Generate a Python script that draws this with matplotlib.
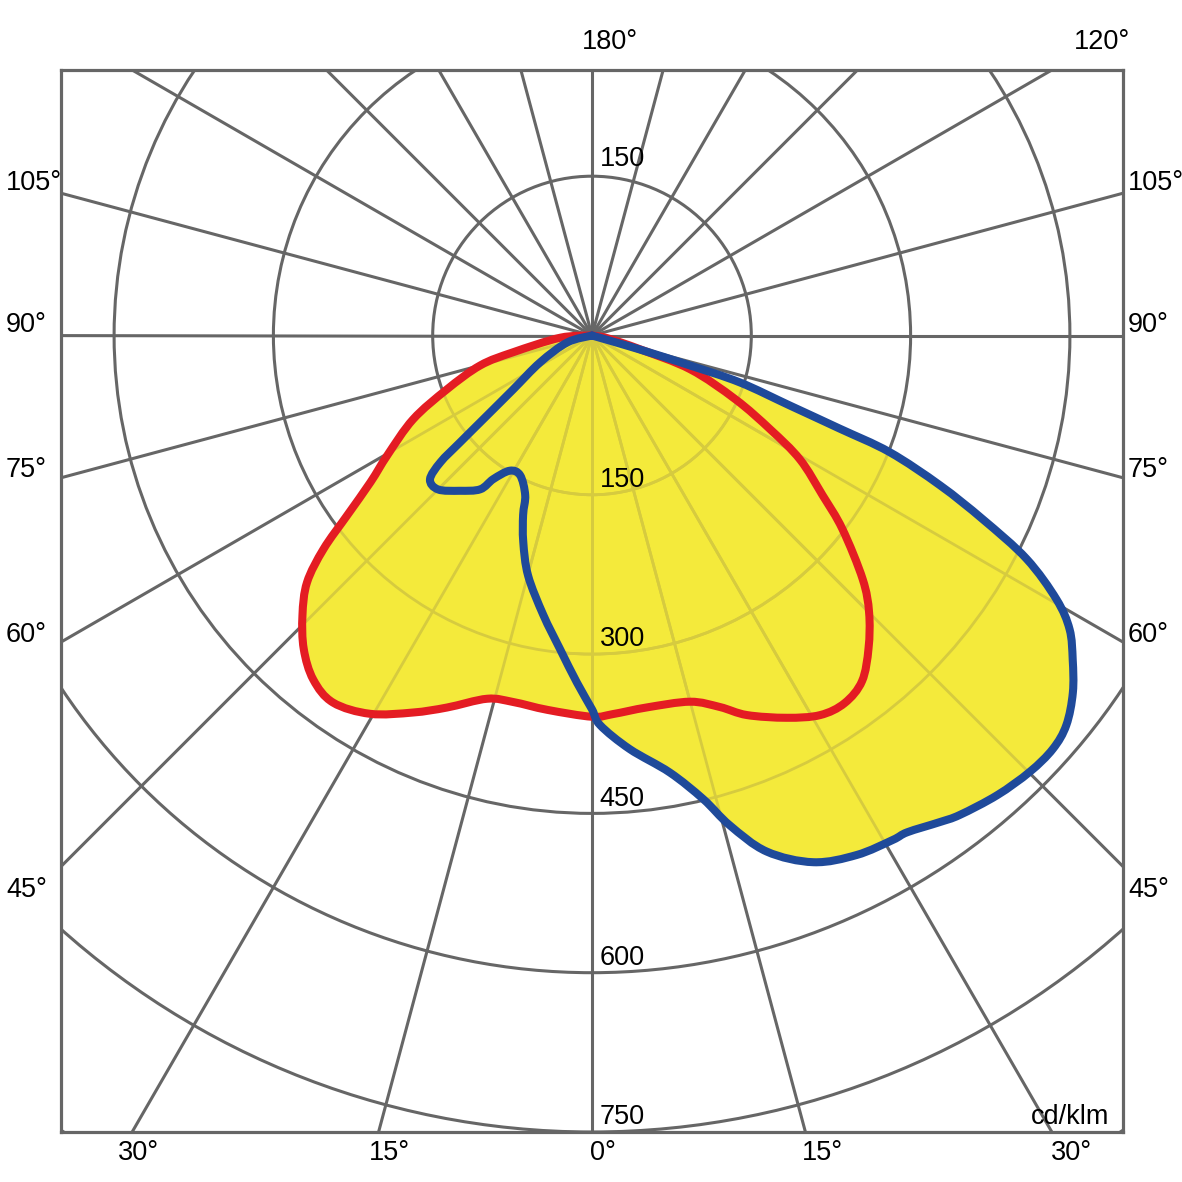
import numpy as np
import matplotlib
matplotlib.use('Agg')
import matplotlib.pyplot as plt
from matplotlib.patches import Circle, PathPatch
from matplotlib.path import Path

# luminous intensity, cd/klm, angle from nadir (negative = left half)
red_angles = [-90, -86, -78, -75, -69.6, -64.9, -59.7, -56.5, -53.7, -51.5, -49.1, -46.0,
              -42.6, -39.0, -35.2, -30.4, -25.4, -21.3, -16.1, -12.1, -6.8, 0, 3.2, 8.4,
              15, 19, 22.2, 27, 31, 34.5, 38, 41.5, 45, 48, 52.3, 55.3, 59.2, 62.2, 66,
              71, 74, 80, 90]
red_cd = [0, 30, 76, 109, 146, 186, 223, 250, 286, 323, 355, 379,
          401, 417, 423, 413, 393, 376, 356, 353, 355, 359, 357, 354,
          357, 370, 386, 404, 417, 420, 413, 393, 369, 343, 298, 264, 228, 190, 148,
          98, 47, 15, 0]

blue_angles = [-90, -74.4, -62.6, -55.6, -52.7, -51.0, -50.1, -48.4, -45, -40.4, -36.0,
               -34.5, -31.3, -27.2, -22.7, -21.0, -18.4, -14.9, -9.9, -5.8, -2.5, 0, 1.2,
               5.2, 10.1, 13.5, 15.7, 18.7, 22.8, 27.0, 30.8, 32.4, 35.5, 37.5, 41.4, 45.1,
               48.1, 50.6, 53.4, 56.0, 58.4, 60.4, 62.8, 64.8, 66.7, 68.6, 69.4, 70.5,
               72.4, 73.0, 73.7, 90]
blue_cd = [0, 24, 55, 90, 124, 160, 186, 204, 205, 192, 179,
           164, 149, 148, 163, 181, 205, 234, 267, 297, 327, 352, 367,
           391, 418, 449, 479, 513, 538, 549, 553, 554, 563, 569, 577, 582,
           583, 578, 564, 546, 528, 503, 460, 407, 357, 301, 249, 198,
           146, 96, 47, 0]

ring_values = [150, 300, 450, 600, 750]
spoke_angles = np.arange(0, 360, 15)

GRAY = '#666666'
OLIVE = '#d6cb3f'
YELLOW = '#f4ea3b'
RED = '#e41c23'
BLUE = '#1f4a9a'

plt.rcParams['font.family'] = ['Liberation Sans', 'DejaVu Sans']


def to_xy(angles, values):
    a = np.radians(angles)
    v = np.asarray(values, dtype=float)
    return v * np.sin(a), -v * np.cos(a)


def smooth_path(xs, ys, close=False):
    # bezier path through the measured points (catmull-rom style handles)
    pts = np.column_stack([xs, ys])
    P = np.vstack([pts[0], pts, pts[-1]])
    verts = [pts[0]]
    codes = [Path.MOVETO]
    for i in range(1, len(P) - 2):
        p0, p1, p2, p3 = P[i - 1], P[i], P[i + 1], P[i + 2]
        verts += [p1 + (p2 - p0) / 6, p2 - (p3 - p1) / 6, p2]
        codes += [Path.CURVE4] * 3
    if close:
        verts.append(pts[0])
        codes.append(Path.CLOSEPOLY)
    return Path(verts, codes)


def draw_grid(ax, color, lw, clip=None):
    arts = []
    z = 3 if clip is not None else 1
    for r in ring_values + [900]:
        c = Circle((0, 0), r, fill=False, edgecolor=color, lw=lw, zorder=z)
        ax.add_patch(c)
        arts.append(c)
    for a in spoke_angles:
        sx, sy = to_xy([a], [2000])
        ln, = ax.plot([0, sx[0]], [0, sy[0]], color=color, lw=lw, zorder=z,
                      solid_capstyle='butt')
        arts.append(ln)
    if clip is not None:
        for art in arts:
            art.set_clip_path(clip)


fig = plt.figure(figsize=(11.82, 11.82), dpi=100)
ax = fig.add_axes([61 / 1182, 50 / 1182, 1062 / 1182, 1062 / 1182])
ax.set_xlim(-500, 500)
ax.set_ylim(-750, 250)
ax.set_aspect('equal')
ax.set_xticks([])
ax.set_yticks([])
for sp in ax.spines.values():
    sp.set_color(GRAY)
    sp.set_linewidth(2.3)
    sp.set_zorder(10)

draw_grid(ax, GRAY, 2.2)

rx, ry = to_xy(red_angles, red_cd)
bx, by = to_xy(blue_angles, blue_cd)
fills = []
for xs, ys in [(rx, ry), (bx, by)]:
    p = PathPatch(smooth_path(xs, ys, close=True), facecolor=YELLOW,
                  edgecolor='none', zorder=2)
    ax.add_patch(p)
    fills.append(p)

for p in fills:
    draw_grid(ax, OLIVE, 2.0, clip=p)

for xs, ys, col, z in [(rx, ry, RED, 5), (bx, by, BLUE, 6)]:
    ax.add_patch(PathPatch(smooth_path(xs, ys), facecolor='none', edgecolor=col,
                           lw=5.8, zorder=z, joinstyle='round', capstyle='round'))

# ring values along the vertical axis
fs = 19.5
ax.text(7, 150 + 16, '150', fontsize=fs, va='center', ha='left', zorder=8)
for r in ring_values:
    ax.text(7, -r + 14, str(r), fontsize=fs, va='center', ha='left', zorder=8)


def ftext(px, py, s, ha='center'):
    fig.text(px / 1182, 1 - py / 1182, s, fontsize=fs, ha=ha, va='center')


ftext(610, 42, '180°')
ftext(1102, 42, '120°')
for lab, py in [('105°', 183), ('90°', 325), ('75°', 470), ('60°', 635), ('45°', 890)]:
    ftext(6, py, lab, ha='left')
    ftext(1128, py, lab, ha='left')
for lab, px in [('30°', 138), ('15°', 389), ('0°', 603), ('15°', 822), ('30°', 1071)]:
    ftext(px, 1153, lab)
ftext(1109, 1117, 'cd/klm', ha='right')

fig.savefig('out.png', dpi=100)
